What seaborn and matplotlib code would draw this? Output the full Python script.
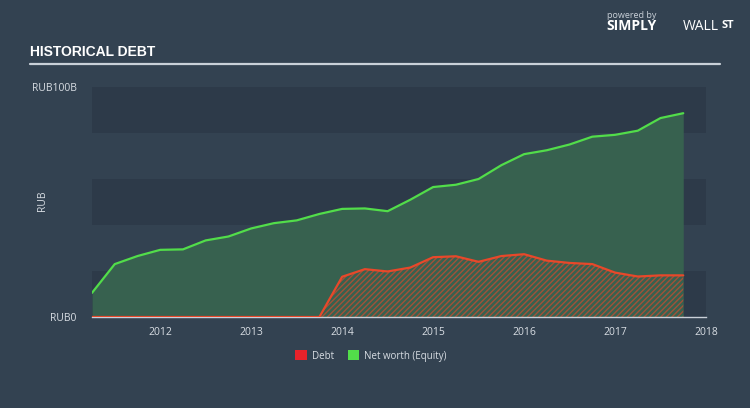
import numpy as np
import pandas as pd
import matplotlib
matplotlib.use("Agg")
import matplotlib.pyplot as plt
import seaborn as sns
from matplotlib.patches import Patch

# ---- data (RUB billions, quarterly) ----
dates = [2011.25, 2011.5, 2011.75, 2012.0, 2012.25, 2012.5, 2012.75,
         2013.0, 2013.25, 2013.5, 2013.75, 2014.0, 2014.25, 2014.5, 2014.75,
         2015.0, 2015.25, 2015.5, 2015.75, 2016.0, 2016.25, 2016.5, 2016.75,
         2017.0, 2017.25, 2017.5, 2017.75]
equity = [10.5, 23.0, 26.5, 29.2, 29.4, 33.3, 35.0,
          38.5, 40.8, 42.0, 44.8, 47.0, 47.2, 46.0, 51.0,
          56.5, 57.5, 60.0, 66.0, 70.8, 72.5, 75.0, 78.4,
          79.2, 81.0, 86.5, 88.6]
debt = [0, 0, 0, 0, 0, 0, 0,
        0, 0, 0, 0, 17.5, 20.8, 19.8, 21.5,
        26.0, 26.4, 24.0, 26.5, 27.3, 24.5, 23.5, 23.0,
        19.3, 17.6, 18.1, 18.1]
xticks = [2012, 2013, 2014, 2015, 2016, 2017, 2018]
ytick_labels = ["RUB0", "RUB100B"]
legend_labels = ["Debt", "Net worth (Equity)"]

df = pd.DataFrame({"date": dates, "equity": equity, "debt": debt})

BG = "#334251"
BAND = "#2d3a49"
TXT = "#d8dde3"
GREEN = "#52dd4a"
GREEN_FILL = "#37614f"
RED = "#e8482a"

sns.set_style("dark")
plt.rcParams["font.family"] = ["Open Sans", "DejaVu Sans"]

fig = plt.figure(figsize=(7.5, 4.08), dpi=100, facecolor=BG)
ax = fig.add_axes([92/750, 1-317/408, (706-92)/750, (317-87)/408])
ax.set_facecolor(BG)

ax.set_xlim(2011.25, 2018.0)
ax.set_ylim(0, 100)

# alternating bands
for lo in (0, 40, 80):
    ax.axhspan(lo, lo + 20, color=BAND, zorder=0, lw=0)

ax.fill_between(df["date"], 0, df["equity"], color=GREEN_FILL, lw=0, zorder=1)
plt.rcParams["hatch.linewidth"] = 1.0
ax.fill_between(df["date"], 0, df["debt"], facecolor="none", edgecolor=RED,
                hatch="//////", lw=0, zorder=2, alpha=0.6)
sns.lineplot(data=df, x="date", y="equity", color=GREEN, lw=1.6, ax=ax, zorder=3)
sns.lineplot(data=df, x="date", y="debt", color=RED, lw=1.6, ax=ax, zorder=3)

for s in ["top", "right", "left"]:
    ax.spines[s].set_visible(False)
ax.spines["bottom"].set_color("#c9d0d8")
ax.spines["bottom"].set_linewidth(1.0)
ax.set_xticks(xticks)
ax.set_xticklabels([str(t) for t in xticks])
ax.tick_params(axis="x", colors="#c9d0d8", length=5, width=1, labelsize=7.5,
               labelcolor=TXT, pad=2)
ax.set_yticks([0, 100])
ax.set_yticklabels(ytick_labels)
ax.tick_params(axis="y", length=0, labelsize=7.5, labelcolor=TXT, pad=11)
ax.set_xlabel("")
ax.set_ylabel("")
ax.grid(False)
fig.text(42/750, 1-201/408, "RUB", color=TXT, fontsize=7.5, rotation=90,
         va="center", ha="center")

# title
fig.text(30/750, 1-52/408, "HISTORICAL DEBT", color="white", fontsize=10,
         fontweight="bold", family=["Liberation Sans", "DejaVu Sans"],
         va="center", ha="left")
fig.add_artist(plt.Line2D([30/750, 720/750], [1-64/408, 1-64/408],
                          color="#c9d0d8", lw=1.6, transform=fig.transFigure))

# logo text
fig.text(607/750, 1-15/408, "powered by", color="#c9d0d8", fontsize=6.5,
         va="center", ha="left")
fig.text(606/750, 1-26/408, "SIMPLY", color="white", fontsize=10,
         fontweight="bold", va="center", ha="left")
fig.text(683/750, 1-26/408, "WALL", color="white", fontsize=10,
         va="center", ha="left")
fig.text(722/750, 1-25/408, "ST", color="white", fontsize=8, fontweight="bold",
         va="center", ha="left")

# legend
handles = [Patch(facecolor="#e8222a", edgecolor="none"),
           Patch(facecolor=GREEN, edgecolor="none")]
leg = fig.legend(handles, legend_labels, loc="center",
                 bbox_to_anchor=(371/750, 1-356/408), ncol=2, frameon=False,
                 fontsize=7, labelcolor=TXT, handlelength=1.2, handleheight=1.2,
                 columnspacing=1.4, handletextpad=0.5)

fig.savefig("out.png", dpi=100, facecolor=BG)
